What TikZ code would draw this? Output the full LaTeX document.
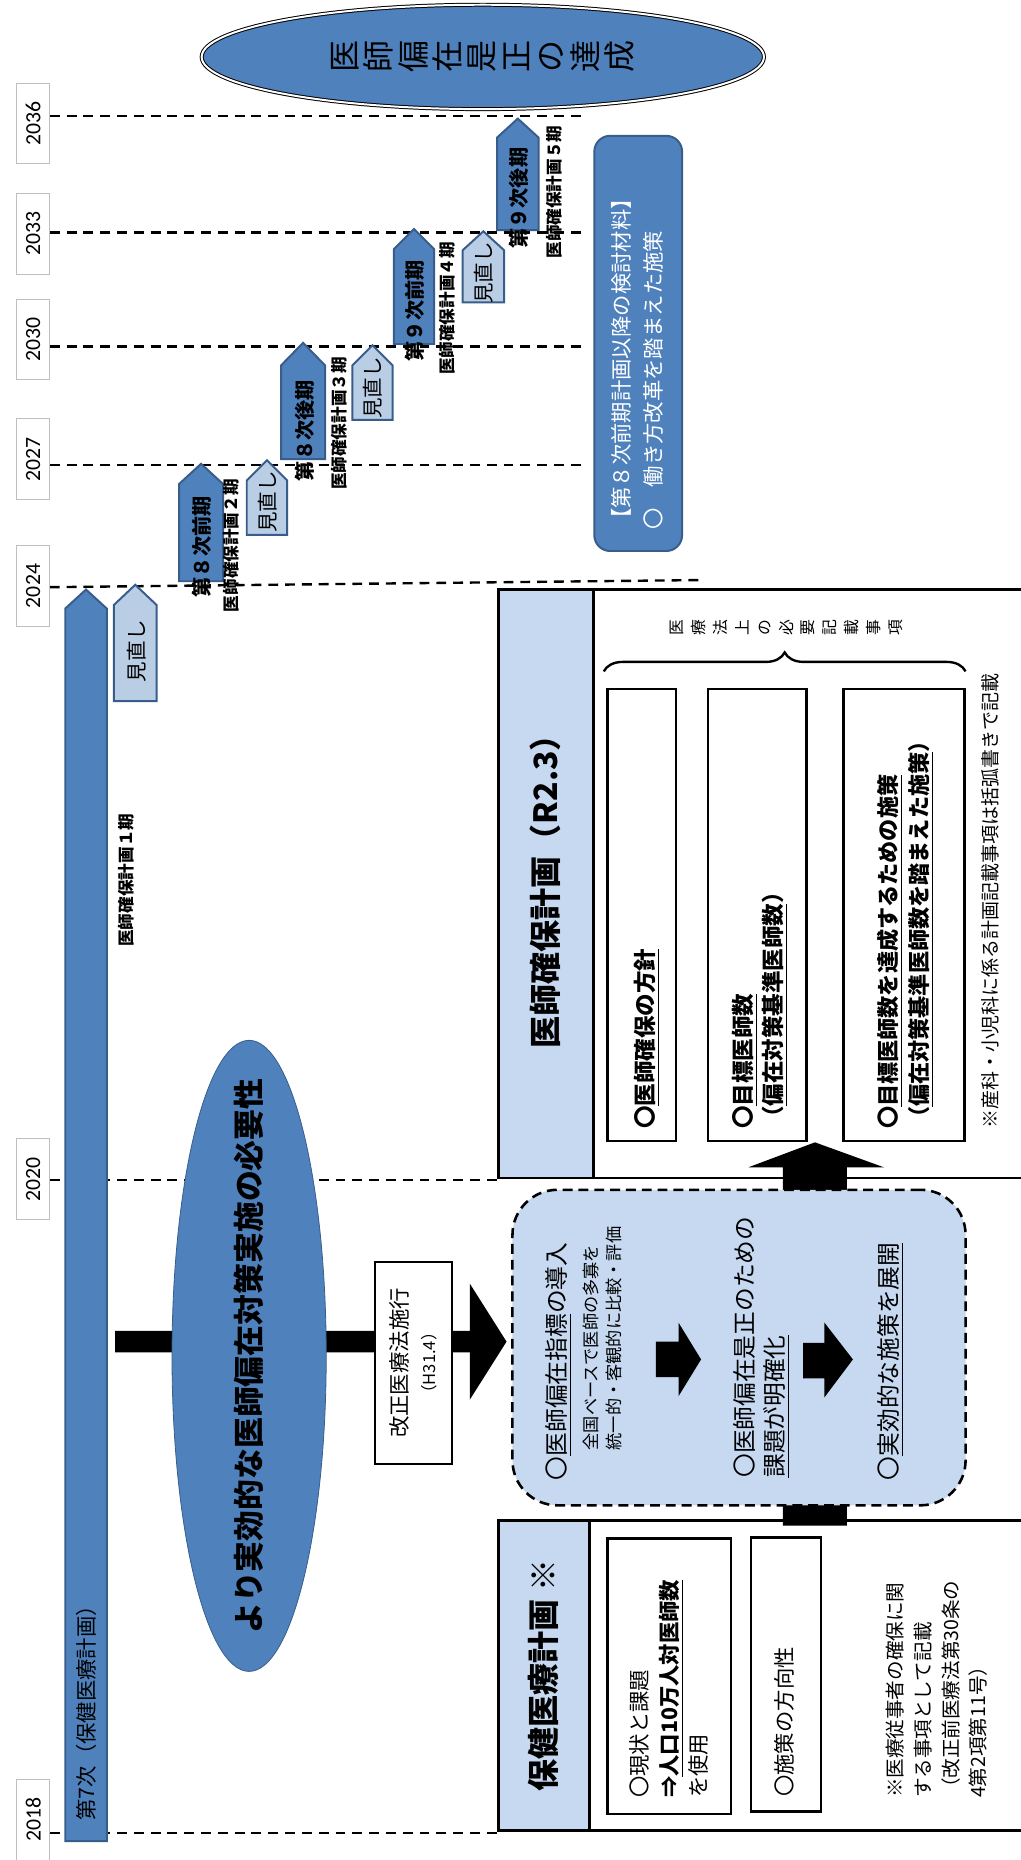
\documentclass[tikz,border=0pt]{standalone}
\usepackage{fontspec}
\setmainfont{Noto Sans CJK JP}
\newfontfamily\yearfont{Carlito}
\usetikzlibrary{shapes.geometric,decorations.pathreplacing}

\definecolor{planblue}{HTML}{4F81BD}
\definecolor{planedge}{HTML}{385D8A}
\definecolor{reviewblue}{HTML}{B9CDE5}
\definecolor{bandblue}{HTML}{C6D9F1}

\newlength\unitpx
\setlength\unitpx{0.6pt}
\newcommand\fsz[2]{\fontsize{#1}{#2}\selectfont}
% pointed bar: [style]{x left}{x right}{y tip}{y shoulder}{y bottom}
\newcommand\pentbar[6][period]{%
  \draw[#1] (#2,#6) -- (#2,#5) -- ({(#2+#3)/2},#4) -- (#3,#5) -- (#3,#6) -- cycle;}

\tikzset{
  vtext/.style={rotate=90,inner sep=0pt},
  yearbox/.style={vtext,draw=black!25,fill=white,minimum width=68\unitpx,
    minimum height=28\unitpx,font=\yearfont\fsz{11pt}{12pt}},
  yearline/.style={line width=1.2pt,dash pattern=on 5pt off 3.5pt},
  period/.style={fill=planblue,draw=planedge,line width=1pt},
  review/.style={fill=reviewblue,draw=planedge,line width=1pt},
  periodtext/.style={vtext,font=\bfseries\fsz{10.2pt}{12pt}},
  termtext/.style={vtext,font=\bfseries\fsz{8.4pt}{10pt}},
  reviewtext/.style={vtext,font=\fsz{10.4pt}{12pt}},
  frame/.style={draw,line width=1.4pt},
  itembox/.style={draw,line width=1.2pt,fill=white,inner sep=0pt},
}

\begin{document}
\begin{tikzpicture}[x=0.6pt,y=-0.6pt]
\useasboundingbox (0,0) rectangle (860,1568);

% year axis
\foreach \yr/\ya/\yz/\yb/\xe in {2036/98/98/104/490,2033/196/196/197/490,
    2030/292/292/286/490,2027/392/392/387/490,2024/495/489/494/590,
    2020/995/995/994/420,2018/1545/1545/1534/420}{
  \draw[yearline] (42,\ya) -- (\xe,\yz);
  \node[yearbox] (y\yr) at (28,\yb) {\yr};
}

% goal
\node[ellipse,fill=planblue,draw,double=white,double distance=1pt,line width=0.5pt,
  minimum width=474\unitpx,minimum height=88\unitpx] (goal) at (407,48) {};
\node[vtext,align=center,font=\fsz{16.2pt}{17.4pt}] (goaltext) at (goal)
  {医\\師\\偏\\在\\是\\正\\の\\達\\成};

% first term
\pentbar{55}{90}{497}{513}{1552}
\pentbar[review]{96}{132}{493}{510}{591}
\node[reviewtext] (rev1) at (115,549) {見直し};
\node[termtext] (term1) at (106,742) {医師確保計画１期};
\node[vtext,anchor=west,font=\fsz{10.8pt}{12pt}] (seventh) at (73,1535) {第7次（保健医療計画）};

% later terms
\foreach \xa/\xb/\yt/\ys/\yb in {151/188/391/408/490,237/274/289/308/387,
    332/366/193/210/290,419/454/100/116/194}{
  \pentbar{\xa}{\xb}{\yt}{\ys}{\yb}
}
\foreach \xa/\xb/\yt/\ys/\yb in {208/242/388/405/451,297/331/291/308/354,
    390/425/195/211/255}{
  \pentbar[review]{\xa}{\xb}{\yt}{\ys}{\yb}
}
\node[periodtext] (p8a) at (170,461) {第８次前期};
\node[periodtext] (p8b) at (257,363) {第８次後期};
\node[periodtext] (p9a) at (350,262) {第９次前期};
\node[periodtext] (p9b) at (437,167) {第９次後期};
\node[reviewtext] (rev2) at (226,423) {見直し};
\node[reviewtext] (rev3) at (314,327) {見直し};
\node[reviewtext] (rev4) at (408,230) {見直し};
\node[termtext] (term2) at (195,460) {医師確保計画２期};
\node[termtext] (term3) at (286,357) {医師確保計画３期};
\node[termtext] (term4) at (377,260) {医師確保計画４期};
\node[termtext] (term5) at (467,162) {医師確保計画５期};

% next topics
\node[fill=planblue,draw=planedge,line width=1pt,rounded corners=8pt,
  minimum width=74\unitpx,minimum height=350\unitpx] (nextbox) at (538,289.5) {};
\node[vtext,anchor=west,align=left,text=white,font=\fsz{10.8pt}{16.2pt}] (nexttext) at (537.5,447)
  {【第８次前期計画以降の検討材料】\\〇　働き方改革を踏まえた施策};

% need
\fill (97,1122) -- (396,1122) -- (396,1082) -- (427,1131) -- (396,1180)
  -- (396,1140) -- (97,1140) -- cycle;
\node[ellipse,fill=planblue,draw=planedge,minimum width=130\unitpx,
  minimum height=532\unitpx] (need) at (210,1143) {};
\node[vtext,font=\bfseries\fsz{15.6pt}{17pt}] (needtext) at (need)
  {より実効的な医師偏在対策実施の必要性};
\node[draw,fill=white,line width=1.2pt,minimum width=65\unitpx,
  minimum height=170\unitpx] (lawbox) at (348.5,1149) {};
\node[vtext,align=center,font=\fsz{10.8pt}{14.4pt}] (lawtext) at (lawbox)
  {改正医療法施行\\{\fsz{8.4pt}{10pt}（H31.4）}};

% doctor plan
\draw[frame] (420,497) rectangle (866,993);
\draw[frame,fill=bandblue] (420,497) rectangle (500,993);
\node[vtext,font=\bfseries\fsz{16.2pt}{18pt}] (dsptitle) at (460,745) {医師確保計画（R2.3）};
\node[vtext,align=center,font=\fsz{8pt}{11.1pt}] (legal) at (663,529)
  {医\\療\\法\\上\\の\\必\\要\\記\\載\\事\\項};
\draw[line width=1.2pt,decorate,decoration={brace,amplitude=16\unitpx}] (509,566) -- (814,566);
\node[itembox,minimum width=58\unitpx,minimum height=381\unitpx] (policybox) at (541,771.5) {};
\node[itembox,minimum width=83\unitpx,minimum height=381\unitpx] (targetbox) at (638.5,771.5) {};
\node[itembox,minimum width=102\unitpx,minimum height=381\unitpx] (measurebox) at (762,771.5) {};
\node[vtext,anchor=west,font=\bfseries\fsz{11.4pt}{15.3pt}] (policytext) at (545,952)
  {〇\underline{医師確保の方針}};
\node[vtext,anchor=west,align=left,font=\bfseries\fsz{11.4pt}{15.3pt}] (targettext) at (640.5,952)
  {〇\underline{目標医師数}\\（\underline{偏在対策基準医師数}）};
\node[vtext,anchor=west,align=left,font=\bfseries\fsz{11.2pt}{15.6pt}] (measuretext) at (763,952)
  {〇\underline{目標医師数を達成するための施策}\\（\underline{偏在対策基準医師数を踏まえた施策}）};
\node[vtext,anchor=west,font=\fsz{9.6pt}{11pt}] (dspnote) at (835,952)
  {※産科・小児科に係る計画記載事項は括弧書きで記載};

% health care plan
\draw[frame] (420,1282) rectangle (866,1543);
\draw[frame,fill=bandblue] (420,1282) rectangle (497,1543);
\node[vtext,font=\bfseries\fsz{16.2pt}{18pt}] (hcptitle) at (458,1412.5) {保健医療計画 ※};
\node[itembox,minimum width=104\unitpx,minimum height=232\unitpx] (statusbox) at (564,1413) {};
\node[itembox,minimum width=59\unitpx,minimum height=231\unitpx] (directbox) at (662.5,1411.5) {};
\node[vtext,anchor=west,align=left,font=\fsz{10.8pt}{15pt}] (statustext) at (564,1516)
  {〇現状と課題\\{\bfseries ⇒\underline{人口10万人対医師数}}\\を使用};
\node[vtext,anchor=west,font=\fsz{10.8pt}{12pt}] (directtext) at (661,1515) {〇施策の方向性};
\node[vtext,anchor=west,align=left,font=\fsz{9.9pt}{14pt}] (hcpnote) at (790,1516)
  {※医療従事者の確保に関\\する事項として記載\\（改正前医療法第30条の\\4第2項第11号）};

% upward arrow
\fill (660,1286) -- (660,984) -- (631,984) -- (687,963) -- (745,984) -- (714,984)
  -- (714,1286) -- cycle;

% index box
\node[draw,fill=bandblue,line width=1.3pt,dash pattern=on 5pt off 3pt,
  rounded corners=38\unitpx,minimum width=382\unitpx,minimum height=266\unitpx] (survey) at (623,1136) {};
\node[vtext,anchor=west,font=\fsz{12pt}{15pt}] (indexitem) at (471,1248)
  {〇\underline{医師偏在指標}の導入};
\node[vtext,anchor=west,align=left,font=\fsz{8.7pt}{12pt}] (indexnote) at (508,1223)
  {全国ベースで医師の多寡を\\統一的・客観的に比較・評価};
\node[vtext,anchor=west,align=left,font=\fsz{12pt}{15.6pt}] (issueitem) at (642,1246)
  {〇医師偏在是正のための\\\underline{課題が明確化}};
\node[vtext,anchor=west,font=\fsz{12pt}{15pt}] (actionitem) at (751,1248)
  {〇\underline{実効的な施策を展開}};
\fill (553,1131) -- (572,1131) -- (572,1115) -- (591,1146) -- (572,1177)
  -- (572,1161) -- (553,1161) -- cycle;
\fill (677,1132) -- (695,1132) -- (695,1115) -- (719,1146) -- (695,1178)
  -- (695,1162) -- (677,1162) -- cycle;
\end{tikzpicture}
\end{document}
